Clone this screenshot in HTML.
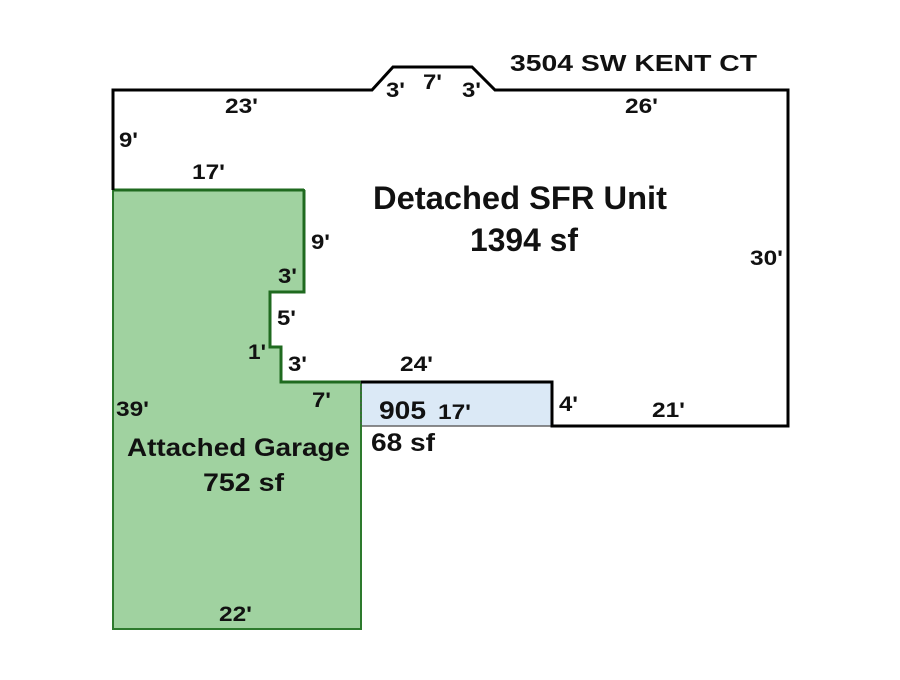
<!DOCTYPE html>
<html><head><style>
body{margin:0;background:#fff}
svg text{font-family:"Liberation Sans",Arial,sans-serif;font-weight:bold;fill:#111}
</style></head><body>
<svg width="900" height="675" viewBox="0 0 900 675">
<rect width="900" height="675" fill="#fff"/>
<polygon points="361,382 552,382 552,426 361,426" fill="#dbe9f6"/>
<line x1="361" y1="426" x2="552" y2="426" stroke="#666" stroke-width="1.5"/>
<polygon points="113,190 304,190 304,292 270,292 270,347 281,347 281,382 361,382 361,629 113,629" fill="#a0d2a0" stroke="#2d7a2d" stroke-width="2"/>
<polyline points="304,190 304,292 270,292 270,347 281,347 281,382 361,382" fill="none" stroke="#1f6a1f" stroke-width="3"/>
<line x1="113" y1="190" x2="304" y2="190" stroke="#1f6a1f" stroke-width="3"/>
<line x1="361" y1="382" x2="361" y2="426" stroke="#555" stroke-width="1" stroke-dasharray="2,2"/>
<polyline points="113,190 113,90 372,90 393,67 472,67 495,90 788,90 788,426 552,426 552,382 361,382" fill="none" stroke="#000" stroke-width="3"/>
<g font-size="21">
<text x="510" y="71" font-size="23" textLength="247" lengthAdjust="spacingAndGlyphs">3504 SW KENT CT</text>
<text x="225" y="113" textLength="33" lengthAdjust="spacingAndGlyphs">23'</text>
<text x="386" y="97" textLength="19" lengthAdjust="spacingAndGlyphs">3'</text>
<text x="423" y="89" textLength="19" lengthAdjust="spacingAndGlyphs">7'</text>
<text x="462" y="97" textLength="19" lengthAdjust="spacingAndGlyphs">3'</text>
<text x="625" y="113" textLength="33" lengthAdjust="spacingAndGlyphs">26'</text>
<text x="119" y="147" textLength="19" lengthAdjust="spacingAndGlyphs">9'</text>
<text x="192" y="179" textLength="33" lengthAdjust="spacingAndGlyphs">17'</text>
<text x="311" y="249" textLength="19" lengthAdjust="spacingAndGlyphs">9'</text>
<text x="278" y="283" textLength="19" lengthAdjust="spacingAndGlyphs">3'</text>
<text x="277" y="325" textLength="19" lengthAdjust="spacingAndGlyphs">5'</text>
<text x="248" y="359" textLength="18" lengthAdjust="spacingAndGlyphs">1'</text>
<text x="288" y="371" textLength="19" lengthAdjust="spacingAndGlyphs">3'</text>
<text x="400" y="371" textLength="33" lengthAdjust="spacingAndGlyphs">24'</text>
<text x="312" y="407" textLength="19" lengthAdjust="spacingAndGlyphs">7'</text>
<text x="116" y="416" textLength="33" lengthAdjust="spacingAndGlyphs">39'</text>
<text x="559" y="411" textLength="19" lengthAdjust="spacingAndGlyphs">4'</text>
<text x="652" y="417" textLength="33" lengthAdjust="spacingAndGlyphs">21'</text>
<text x="750" y="265" textLength="33" lengthAdjust="spacingAndGlyphs">30'</text>
<text x="438" y="419" textLength="33" lengthAdjust="spacingAndGlyphs">17'</text>
<text x="219" y="621" textLength="33" lengthAdjust="spacingAndGlyphs">22'</text>
</g>
<text x="373" y="209" font-size="32" textLength="294" lengthAdjust="spacingAndGlyphs">Detached SFR Unit</text>
<text x="470" y="251" font-size="32" textLength="108" lengthAdjust="spacingAndGlyphs">1394 sf</text>
<text x="379" y="419" font-size="25" textLength="47" lengthAdjust="spacingAndGlyphs">905</text>
<text x="371" y="451" font-size="25" textLength="64" lengthAdjust="spacingAndGlyphs">68 sf</text>
<text x="127" y="456" font-size="25" textLength="223" lengthAdjust="spacingAndGlyphs">Attached Garage</text>
<text x="203" y="491" font-size="25" textLength="81" lengthAdjust="spacingAndGlyphs">752 sf</text>
</svg>
</body></html>
